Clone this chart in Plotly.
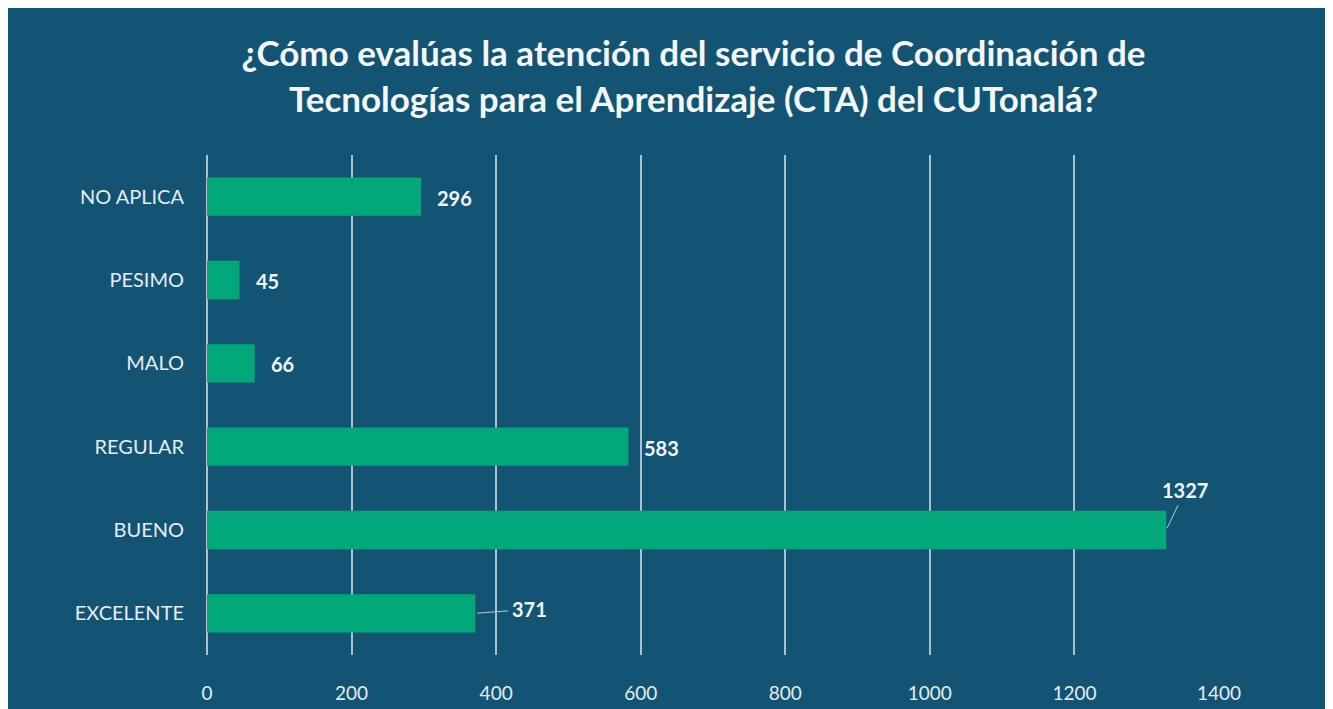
import plotly.graph_objects as go

categories = ["EXCELENTE", "BUENO", "REGULAR", "MALO", "PESIMO", "NO APLICA"]
values = [371, 1327, 583, 66, 45, 296]
x_ticks = [0, 200, 400, 600, 800, 1000, 1200, 1400]
title_lines = ["¿Cómo evalúas la atención del servicio de Coordinación de",
               "Tecnologías para el Aprendizaje (CTA) del CUTonalá?"]

# the page body adds an 8px white margin at top/left, like the reference's white strip
W, H = 1333, 701
ML, MR, MT, MB = 199, 122, 147, 54
BG = "#135475"
GREEN = "#03a87a"
GRID = "#aebfce"
TXT = "#e6ecf2"
FONT = "Lato, Open Sans, sans-serif"

fig = go.Figure()
fig.add_trace(go.Bar(
    x=values, y=categories, orientation="h",
    marker=dict(color=GREEN, line=dict(width=0)),
    width=0.46, hoverinfo="x+y",
))

label_offsets = {"BUENO": (19, -40), "EXCELENTE": (54, -4)}
for c, v in zip(categories, values):
    if c in label_offsets:
        ax, ay = label_offsets[c]
        fig.add_annotation(x=v, y=c, text=f"<b>{v}</b>", showarrow=True,
                           ax=ax, ay=ay, axref="pixel", ayref="pixel",
                           arrowhead=0, arrowwidth=1, arrowcolor="#b8c7d4",
                           standoff=2, startstandoff=2,
                           font=dict(family=FONT, size=20, color="#f2f5f8"))
    else:
        fig.add_annotation(x=v, y=c, text=f"<b>{v}</b>", showarrow=False,
                           xanchor="left", xshift=14, yshift=-1,
                           font=dict(family=FONT, size=20, color="#f2f5f8"))

fig.update_layout(
    width=W, height=H,
    margin=dict(l=ML, r=MR, t=MT, b=MB, autoexpand=False),
    paper_bgcolor=BG, plot_bgcolor=BG,
    showlegend=False,
    title=dict(text="<b>" + title_lines[0] + "<br>" + title_lines[1] + "</b>",
               x=685.5 / W, xanchor="center", y=1 - 58 / H, yanchor="middle",
               font=dict(family=FONT, size=35, color="#f4f6f8")),
)
fig.update_xaxes(range=[0, 1400], tickvals=x_ticks, ticktext=[str(t) for t in x_ticks],
                 showgrid=True, gridcolor=GRID, gridwidth=2, zeroline=True,
                 zerolinecolor=GRID, zerolinewidth=2, showline=False,
                 ticks="outside", ticklen=21, tickcolor="rgba(0,0,0,0)",
                 tickfont=dict(family=FONT, size=19, color=TXT),
                 fixedrange=True)
fig.update_yaxes(range=[-0.5, 5.5], categoryorder="array", categoryarray=categories,
                 showgrid=False, zeroline=False, showline=False,
                 ticks="outside", ticklen=18, tickcolor="rgba(0,0,0,0)",
                 tickfont=dict(family=FONT, size=20, color=TXT),
                 fixedrange=True)

fig.write_html("out.html")
